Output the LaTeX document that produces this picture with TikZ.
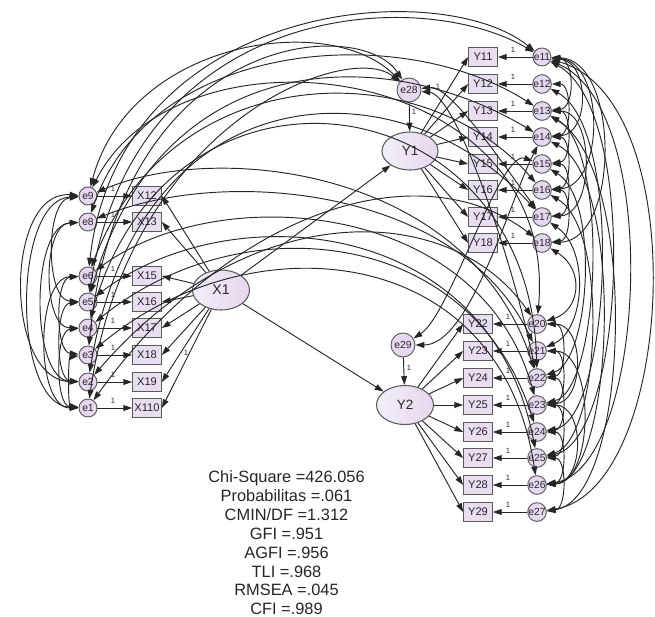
\documentclass[tikz,border=0pt]{standalone}
\usepackage{fontspec}
\setmainfont{Liberation Sans}
\usetikzlibrary{arrows.meta,shapes.geometric}
\definecolor{bfill}{RGB}{233,222,241}
\definecolor{efill}{RGB}{231,216,241}
\definecolor{latL}{RGB}{241,239,249}
\definecolor{latR}{RGB}{232,214,238}
\definecolor{lcol}{RGB}{90,90,90}
\definecolor{tcol}{RGB}{40,40,40}
\tikzset{
 obs/.style={draw=lcol, line width=0.9pt, fill=bfill, minimum width=0.86cm, minimum height=0.55cm, inner sep=0pt, text=tcol, font=\fontsize{9.5}{10}\selectfont},
 err/.style={circle, draw=lcol, line width=0.8pt, fill=efill, minimum size=0.54cm, inner sep=0pt, text=tcol, font=\fontsize{8.8}{9}\selectfont},
 bigerr/.style={err, minimum size=0.72cm},
 lat/.style={ellipse, draw=lcol, line width=0.9pt, left color=latL, right color=latR, inner sep=0pt, text=tcol, font=\fontsize{12}{13}\selectfont},
 reg/.style={draw=black!85, line width=0.8pt, -{Triangle[length=7.5pt,width=5pt]}},
 cov/.style={draw=black!85, line width=0.8pt, {Triangle[length=7.5pt,width=5pt]}-{Triangle[length=7.5pt,width=5pt]}},
 one/.style={font=\fontsize{6.5}{7}\selectfont, text=tcol, inner sep=0pt},
 stat/.style={font=\fontsize{14}{15}\selectfont, text=black!85, inner sep=0pt, anchor=base},
}
\begin{document}
\begin{tikzpicture}[x=0.03cm,y=-0.03cm]
\useasboundingbox[fill=white] (0,0) rectangle (655,616);
% ---------- left block ----------
\foreach \n/\y in {9/196,8/222,6/276,5/302,4/328,3/355,2/382,1/408}
  \node[err] (e\n) at (88,\y) {e\n};
\node[obs] (X12) at (147,196) {X12};
\node[obs] (X13) at (147,222) {X13};
\node[obs] (X15) at (147,276) {X15};
\node[obs] (X16) at (147,302) {X16};
\node[obs] (X17) at (147,328) {X17};
\node[obs] (X18) at (147,355) {X18};
\node[obs] (X19) at (147,382) {X19};
\node[obs] (X110) at (147,408) {X110};
\node[lat, minimum width=1.71cm, minimum height=1.2cm] (X1) at (221,290) {X1};
% ---------- Y1 block ----------
\node[bigerr] (e28) at (409,90) {e28};
\node[lat, minimum width=1.68cm, minimum height=1.14cm, font=\fontsize{11.5}{12}\selectfont] (Y1) at (410,151) {Y1};
\foreach \n/\y in {11/57,12/84,13/111,14/137,15/164,16/190,17/217,18/243}{
  \node[obs] (Y\n) at (483,\y) {Y\n};
  \node[err] (e\n) at (542,\y) {e\n};
}
% ---------- Y2 block ----------
\node[bigerr] (e29) at (403,345) {e29};
\node[lat, minimum width=1.71cm, minimum height=1.17cm, font=\fontsize{11.5}{12}\selectfont] (Y2) at (405,405) {Y2};
\foreach \n/\m/\y in {22/20/324,23/21/351,24/22/378,25/23/405,26/24/432,27/25/458,28/26/485,29/27/512}{
  \node[obs] (Y\n) at (478,\y) {Y\n};
  \node[err] (e\m) at (537,\y) {e\m};
}
% ---------- regression paths ----------
\foreach \n in {12,13,15,16,17,18,19,110}
  \draw[reg] (X1) -- (X\n.east);
\foreach \e/\x in {9/12,8/13,6/15,5/16,4/17,3/18,2/19,1/110}
  \draw[reg] (e\e) -- (X\x);
\foreach \n in {11,...,18}{
  \draw[reg] (Y1) -- (Y\n.west);
  \draw[reg] (e\n) -- (Y\n);
}
\foreach \n/\m in {22/20,23/21,24/22,25/23,26/24,27/25,28/26,29/27}{
  \draw[reg] (Y2) -- (Y\n.west);
  \draw[reg] (e\m) -- (Y\n);
}
\draw[reg] (X1) -- (Y1);
\draw[reg] (X1) -- (Y2);
\draw[reg] (e28) -- (Y1);
\draw[reg] (e29) -- (Y2);
% ---------- "1" labels ----------
\foreach \y [count=\i] in {196,222,276,302,328,355,382,408}
  \node[one] (lx\i) at (113,\y-7) {1};
\foreach \y [count=\i] in {57,84,111,137,164,190,217,243}
  \node[one] (ly\i) at (513,\y-7) {1};
\foreach \y [count=\i] in {324,351,378,405,432,458,485,512}
  \node[one] (lz\i) at (508,\y-7) {1};
\node[one] (l28) at (414,112) {1};
\node[one] (l29) at (409,368) {1};
\node[one] (lX) at (186,353) {1};
\node[one] (lY) at (438,87) {1};
% ---------- covariances: left group ----------
\draw[cov] (e9) .. controls (12,200) and (12,405) .. (e1);
\draw[cov] (e8) .. controls (30,225) and (30,380) .. (e2);
\draw[cov] (e9) .. controls (45,200) and (45,300) .. (e5);
\draw[cov] (e6) .. controls (35,278) and (35,408) .. (e1);
\draw[cov] (e6) .. controls (55,278) and (55,352) .. (e3);
\draw[cov] (e5) .. controls (55,304) and (55,380) .. (e2);
\draw[cov] (e4) .. controls (55,330) and (55,406) .. (e1);
\draw[cov] (e8) .. controls (42,224) and (42,328) .. (e4);
\draw[cov] (e3) .. controls (68,357) and (68,406) .. (e1);
\draw[cov] (e9) .. controls (4,190) and (4,380) .. (e2);
% ---------- covariances: over the top ----------
\draw[cov] (e6) .. controls (120,0) and (440,-25) .. (e11);
\draw[cov] (e5) .. controls (135,0) and (420,-15) .. (e11);
\draw[cov] (e9) .. controls (130,40) and (330,10) .. (e28);
\draw[cov] (e3) .. controls (120,30) and (360,15) .. (e28);
\draw[cov] (e1) .. controls (130,120) and (350,40) .. (e28);
\draw[cov] (e8) .. controls (150,40) and (400,20) .. (e13);
\draw[cov] (e6) .. controls (170,60) and (420,50) .. (e16);
\draw[cov] (e2) .. controls (140,70) and (400,60) .. (e17);
\draw[cov] (e5) .. controls (160,50) and (380,40) .. (e14);
\draw[cov] (e9) .. controls (180,15) and (560,60) .. (e20);
\draw[cov] (e4) .. controls (170,30) and (530,80) .. (e22);
% ---------- covariances: across the middle ----------
\draw[cov] (e9) .. controls (220,140) and (470,170) .. (e22);
\draw[cov] (e8) .. controls (230,165) and (460,190) .. (e21);
\draw[cov] (e6) .. controls (220,180) and (480,200) .. (e23);
\draw[cov] (e5) .. controls (230,195) and (490,215) .. (e25);
\draw[cov] (e4) .. controls (240,205) and (470,225) .. (e24);
\draw[cov] (e3) .. controls (250,220) and (500,240) .. (e26);
\draw[cov] (e2) .. controls (250,195) and (450,200) .. (e20);
\draw[cov] (e1) .. controls (230,210) and (420,150) .. (e18);
% ---------- covariances: e28, e29 ----------
\draw[cov] (e28) .. controls (450,85) and (500,160) .. (e17);
\draw[cov] (e28) .. controls (455,95) and (510,250) .. (e22);
\draw[cov] (e29) .. controls (470,345) and (510,200) .. (e14);
\draw[cov] (e29) .. controls (450,315) and (500,150) .. (e15);
% ---------- covariances: right big arcs ----------
\draw[cov] (e11) .. controls (695,100) and (675,490) .. (e27);
\draw[cov] (e11) .. controls (665,110) and (645,470) .. (e26);
\draw[cov] (e11) .. controls (640,110) and (625,440) .. (e25);
\draw[cov] (e12) .. controls (625,130) and (610,420) .. (e24);
\draw[cov] (e13) .. controls (610,150) and (600,390) .. (e23);
\draw[cov] (e14) .. controls (625,180) and (615,480) .. (e26);
\draw[cov] (e15) .. controls (600,200) and (590,360) .. (e22);
\draw[cov] (e16) .. controls (610,230) and (600,440) .. (e25);
\draw[cov] (e17) .. controls (590,250) and (585,330) .. (e21);
\draw[cov] (e18) .. controls (585,270) and (580,310) .. (e20);
\draw[cov] (e13) .. controls (640,170) and (630,500) .. (e27);
% ---------- covariances: right top group ----------
\draw[cov] (e11) .. controls (575,60) and (575,108) .. (e13);
\draw[cov] (e11) .. controls (590,62) and (590,134) .. (e14);
\draw[cov] (e11) .. controls (605,62) and (605,186) .. (e16);
\draw[cov] (e12) .. controls (572,84) and (572,134) .. (e14);
\draw[cov] (e13) .. controls (572,111) and (572,161) .. (e15);
\draw[cov] (e14) .. controls (572,137) and (572,187) .. (e16);
\draw[cov] (e15) .. controls (572,164) and (572,214) .. (e17);
\draw[cov] (e16) .. controls (572,190) and (572,240) .. (e18);
\draw[cov] (e13) .. controls (595,111) and (595,214) .. (e17);
\draw[cov] (e11) .. controls (620,60) and (620,240) .. (e18);
% ---------- covariances: right bottom group ----------
\draw[cov] (e20) .. controls (567,324) and (567,375) .. (e22);
\draw[cov] (e21) .. controls (567,351) and (567,402) .. (e23);
\draw[cov] (e20) .. controls (585,324) and (585,402) .. (e23);
\draw[cov] (e22) .. controls (567,378) and (567,429) .. (e24);
\draw[cov] (e23) .. controls (567,405) and (567,455) .. (e25);
\draw[cov] (e24) .. controls (567,432) and (567,482) .. (e26);
\draw[cov] (e25) .. controls (567,458) and (567,509) .. (e27);
\draw[cov] (e21) .. controls (595,351) and (595,482) .. (e26);
\draw[cov] (e23) .. controls (585,405) and (585,482) .. (e26);
% ---------- fit statistics ----------
\node[stat] (s1) at (286.5,482.5) {Chi-Square =426.056};
\node[stat] (s2) at (286.5,501.4) {Probabilitas =.061};
\node[stat] (s3) at (286.5,520.3) {CMIN/DF =1.312};
\node[stat] (s4) at (286.5,539.2) {GFI =.951};
\node[stat] (s5) at (286.5,558.1) {AGFI =.956};
\node[stat] (s6) at (286.5,577.0) {TLI =.968};
\node[stat] (s7) at (286.5,595.9) {RMSEA =.045};
\node[stat] (s8) at (286.5,614.3) {CFI =.989};
\end{tikzpicture}
\end{document}
